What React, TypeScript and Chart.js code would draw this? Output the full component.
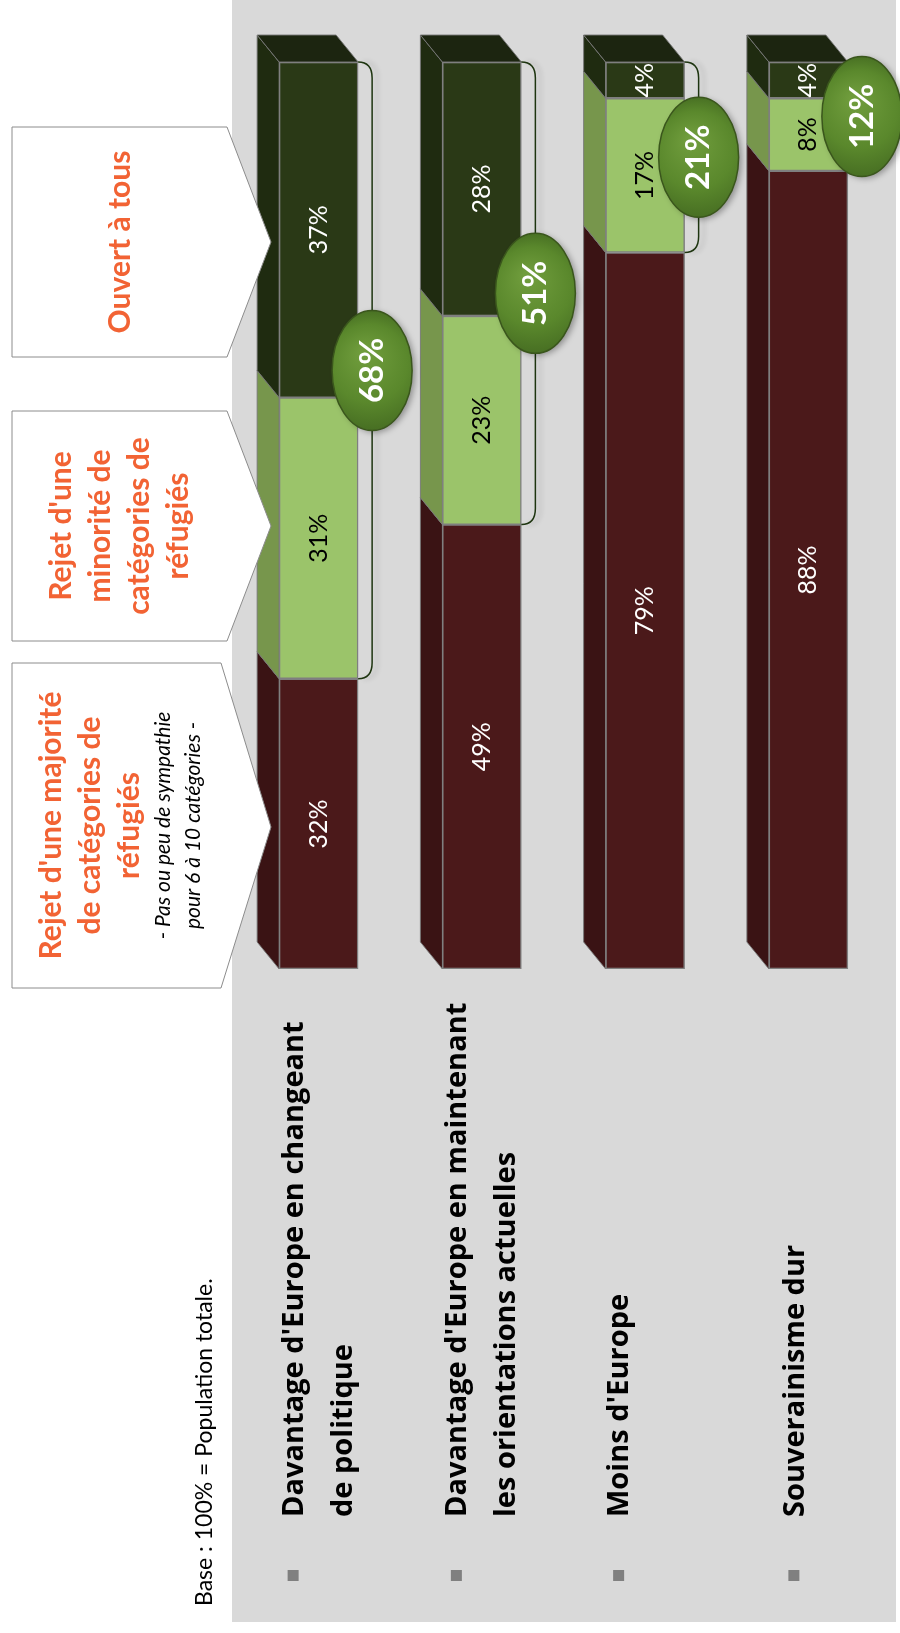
import React, { useEffect, useRef } from "react";
import { Chart, registerables } from "chart.js";

Chart.register(...registerables);

// ---------- data ----------
const categories: string[][] = [
  ["Davantage d'Europe en changeant", "de politique"],
  ["Davantage d'Europe en maintenant", "les orientations actuelles"],
  ["Moins d'Europe"],
  ["Souverainisme dur"],
];
const rejetMajorite = [32, 49, 79, 88];
const rejetMinorite = [31, 23, 17, 8];
const ouvertATous = [37, 28, 4, 4];
const totalOuverts = [68, 51, 21, 12];
const seriesNames = [
  "Rejet d'une majorité de catégories de réfugiés",
  "Rejet d'une minorité de catégories de réfugiés",
  "Ouvert à tous",
];
const calloutTitles: string[][] = [
  ["Ouvert à tous"],
  ["Rejet d'une", "minorité de", "catégories de", "réfugiés"],
  ["Rejet d'une majorité", "de catégories de", "réfugiés"],
];
const calloutNotes: string[][] = [[], [], ["- Pas ou peu de sympathie", "pour 6 à 10 catégories -"]];
const baseNote = "Base : 100% = Population totale.";

// ---------- styles / layout ----------
const FRONT = ["#4b191a", "#9bc46a", "#2a3916"];
const SIDE = ["#3a1314", "#77964c", "#1f2b10"];
const TOP_FACE = "#1c2510";
const LABEL_COLORS = ["#ffffff", "#000000", "#ffffff"];
const ORANGE = "#f26334";
const DX = 22;
const DY = 27;
const CALLOUTS = [
  { top: 127, bottom: 357, right: 227, tip: 242 },
  { top: 411, bottom: 641, right: 227, tip: 526 },
  { top: 663, bottom: 988, right: 221, tip: 827 },
];
const LABEL_SHIFT = [-24, -24, -25, -13];

function rtext(
  ctx: CanvasRenderingContext2D,
  text: string,
  x: number,
  y: number,
  font: string,
  color: string,
  align: CanvasTextAlign
) {
  ctx.save();
  ctx.translate(x, y);
  ctx.rotate(-Math.PI / 2);
  ctx.font = font;
  ctx.fillStyle = color;
  ctx.textAlign = align;
  ctx.textBaseline = "middle";
  ctx.fillText(text, 0, 0);
  ctx.restore();
}

const decor = {
  id: "decor",
  beforeDraw(chart: any) {
    const ctx: CanvasRenderingContext2D = chart.ctx;
    ctx.save();
    ctx.fillStyle = "#ffffff";
    ctx.fillRect(0, 0, chart.width, chart.height);
    ctx.fillStyle = "#d9d9d9";
    ctx.fillRect(232, 0, 664, 1622);
    ctx.restore();
  },
  beforeDatasetsDraw(chart: any) {
    const ctx: CanvasRenderingContext2D = chart.ctx;
    const n = chart.data.datasets.length;
    for (let i = 0; i < n; i++) {
      const meta = chart.getDatasetMeta(i);
      meta.data.forEach((el: any) => {
        const { x, y, base, width } = el.getProps(["x", "y", "base", "width"], true);
        const L = x - width / 2;
        const R = x + width / 2;
        const top = Math.min(y, base);
        const bot = Math.max(y, base);
        ctx.save();
        ctx.beginPath();
        ctx.moveTo(L, top);
        ctx.lineTo(L, bot);
        ctx.lineTo(L - DX, bot - DY);
        ctx.lineTo(L - DX, top - DY);
        ctx.closePath();
        ctx.fillStyle = SIDE[i];
        ctx.fill();
        ctx.strokeStyle = "rgba(120,120,120,0.9)";
        ctx.lineWidth = 1;
        ctx.stroke();
        if (i === n - 1) {
          ctx.beginPath();
          ctx.moveTo(L, top);
          ctx.lineTo(R, top);
          ctx.lineTo(R - DX, top - DY);
          ctx.lineTo(L - DX, top - DY);
          ctx.closePath();
          ctx.fillStyle = TOP_FACE;
          ctx.fill();
          ctx.stroke();
        }
        ctx.restore();
      });
    }
  },
  afterDatasetsDraw(chart: any) {
    const ctx: CanvasRenderingContext2D = chart.ctx;
    // value labels
    chart.data.datasets.forEach((ds: any, i: number) => {
      const meta = chart.getDatasetMeta(i);
      meta.data.forEach((el: any, j: number) => {
        const { x, y, base } = el.getProps(["x", "y", "base"], true);
        rtext(ctx, ds.data[j] + "%", x, (y + base) / 2, "25px Lato", LABEL_COLORS[i], "center");
      });
    });
    // brackets + ovals
    const topMeta = chart.getDatasetMeta(2);
    const botMeta = chart.getDatasetMeta(0);
    topMeta.data.forEach((el: any, j: number) => {
      const { x, y, width } = el.getProps(["x", "y", "width"], true);
      const bottom = botMeta.data[j].getProps(["y"], true).y;
      const R = x + width / 2;
      const lx = R + 14;
      const top = y;
      ctx.save();
      ctx.shadowColor = "rgba(0,0,0,0.18)";
      ctx.shadowBlur = 5;
      ctx.shadowOffsetX = 5;
      ctx.beginPath();
      ctx.moveTo(R, top);
      ctx.quadraticCurveTo(lx, top, lx, top + 16);
      ctx.lineTo(lx, bottom - 16);
      ctx.quadraticCurveTo(lx, bottom, R, bottom);
      ctx.strokeStyle = "#1e3510";
      ctx.lineWidth = 1.5;
      ctx.stroke();
      ctx.restore();

      const cy = (top + bottom) / 2;
      ctx.save();
      ctx.shadowColor = "rgba(0,0,0,0.35)";
      ctx.shadowBlur = 6;
      ctx.shadowOffsetX = 3;
      ctx.shadowOffsetY = 2;
      const g = ctx.createRadialGradient(lx - 8, cy - 18, 4, lx, cy, 62);
      g.addColorStop(0, "#6f9c3c");
      g.addColorStop(0.6, "#5a882c");
      g.addColorStop(1, "#466d22");
      ctx.beginPath();
      ctx.ellipse(lx, cy, 40, 60, 0, 0, Math.PI * 2);
      ctx.fillStyle = g;
      ctx.fill();
      ctx.restore();
      ctx.save();
      ctx.beginPath();
      ctx.ellipse(lx, cy, 40, 60, 0, 0, Math.PI * 2);
      ctx.strokeStyle = "#3a561c";
      ctx.lineWidth = 1.5;
      ctx.stroke();
      ctx.restore();
      rtext(ctx, totalOuverts[j] + "%", lx, cy, "bold 33px Lato", "#ffffff", "center");
    });
  },
  afterDraw(chart: any) {
    const ctx: CanvasRenderingContext2D = chart.ctx;
    // callouts
    CALLOUTS.forEach((c, k) => {
      ctx.save();
      ctx.beginPath();
      ctx.moveTo(12, c.top);
      ctx.lineTo(c.right, c.top);
      ctx.lineTo(271, c.tip);
      ctx.lineTo(c.right, c.bottom);
      ctx.lineTo(12, c.bottom);
      ctx.closePath();
      ctx.fillStyle = "#ffffff";
      ctx.fill();
      ctx.strokeStyle = "#8c8c8c";
      ctx.lineWidth = 1;
      ctx.stroke();
      ctx.restore();
      const titles = calloutTitles[k];
      const notes = calloutNotes[k];
      const lineGap = 39;
      const noteGap = 30;
      const total = titles.length * lineGap + notes.length * noteGap;
      let xx = 120 - total / 2 + lineGap / 2;
      const cy = (c.top + c.bottom) / 2;
      titles.forEach((t) => {
        rtext(ctx, t, xx, cy, "bold 30px Lato", ORANGE, "center");
        xx += lineGap;
      });
      xx += (noteGap - lineGap) / 2;
      notes.forEach((t) => {
        rtext(ctx, t, xx, cy, "italic 21px Lato", "#000000", "center");
        xx += noteGap;
      });
    });
    // category labels
    const xScale = chart.scales.x;
    categories.forEach((lines, j) => {
      const cx = xScale.getPixelForValue(j) + LABEL_SHIFT[j];
      ctx.save();
      ctx.fillStyle = "#808080";
      ctx.fillRect(cx - 7, 1570, 11, 11);
      ctx.restore();
      lines.forEach((t, k) => {
        rtext(ctx, t, cx + k * 49, 1517, "bold 29px 'Open Sans'", "#000000", "left");
      });
    });
    rtext(ctx, baseNote, 205, 1606, "23px Lato", "#000000", "left");
  },
};

export default function App() {
  const ref = useRef<HTMLCanvasElement | null>(null);
  useEffect(() => {
    if (!ref.current) return;
    const chart = new Chart(ref.current, {
      type: "bar",
      data: {
        labels: categories.map((c) => c.join(" ")),
        datasets: [
          { label: seriesNames[0], data: rejetMajorite, backgroundColor: FRONT[0] },
          { label: seriesNames[1], data: rejetMinorite, backgroundColor: FRONT[1] },
          { label: seriesNames[2], data: ouvertATous, backgroundColor: FRONT[2] },
        ].map((d) => ({
          ...d,
          borderColor: "#7f7f7f",
          borderWidth: 1.5,
          borderSkipped: false,
          barThickness: 79,
        })),
      },
      options: {
        responsive: false,
        animation: false,
        devicePixelRatio: 1,
        layout: { padding: { left: 237, right: 10, top: 62, bottom: 664 } },
        plugins: { legend: { display: false }, tooltip: { enabled: false } },
        scales: {
          x: { stacked: true, display: false },
          y: { stacked: true, display: false, min: 0, max: 100 },
        },
      },
      plugins: [decor],
    } as any);
    const fonts = (document as any).fonts;
    if (fonts && fonts.load) {
      Promise.all([
        fonts.load("bold 32px Lato"),
        fonts.load("25px Lato"),
        fonts.load("italic 21px Lato"),
        fonts.load("bold 29px 'Open Sans'"),
      ])
        .then(() => chart.update())
        .catch(() => {});
    }
    return () => chart.destroy();
  }, []);
  return (
    <div style={{ position: "absolute", left: 0, top: 0, width: 900, height: 1633 }}>
      <canvas ref={ref} width={900} height={1633} style={{ display: "block", width: 900, height: 1633 }} />
    </div>
  );
}
